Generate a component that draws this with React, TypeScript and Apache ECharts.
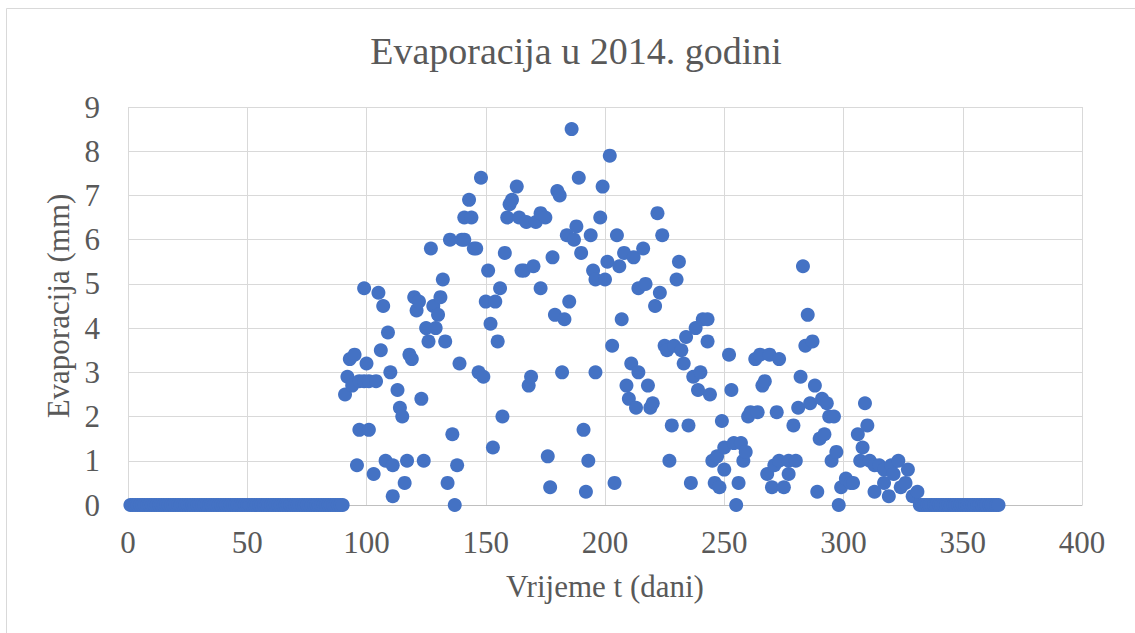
import React, { useEffect, useRef } from "react";
import * as echarts from "echarts";

const titleText = "Evaporacija u 2014. godini";
const xAxisName = "Vrijeme t (dani)";
const yAxisName = "Evaporacija (mm)";

// Days before the season (evaporation 0)
const winterDays = [
  1, 2, 3, 4, 5, 6, 7, 8, 9, 10, 11, 12, 13, 14, 15, 16, 17, 18, 19, 20,
  21, 22, 23, 24, 25, 26, 27, 28, 29, 30, 31, 32, 33, 34, 35, 36, 37, 38, 39, 40,
  41, 42, 43, 44, 45, 46, 47, 48, 49, 50, 51, 52, 53, 54, 55, 56, 57, 58, 59, 60,
  61, 62, 63, 64, 65, 66, 67, 68, 69, 70, 71, 72, 73, 74, 75, 76, 77, 78, 79, 80,
  81, 82, 83, 84, 85, 86, 87, 88, 89, 90,
];
// Days after the season (evaporation 0)
const lateDays = [
  332, 333, 334, 335, 336, 337, 338, 339, 340, 341, 342, 343, 344, 345, 346, 347,
  348, 349, 350, 351, 352, 353, 354, 355, 356, 357, 358, 359, 360, 361, 362, 363,
  364, 365,
];
const offSeasonValue = 0;

// Season days and measured evaporation (mm)
const seasonDays = [
  91, 92, 93, 94, 95, 96, 97, 97, 99, 99, 100, 101, 101, 103, 104, 105, 106, 107, 108, 109,
  110, 111, 111, 113, 114, 115, 116, 117, 118, 119, 120, 121, 122, 123, 124, 125, 126, 127, 128, 129,
  130, 131, 132, 133, 134, 135, 136, 137, 138, 139, 140, 141, 141, 143, 144, 145, 146, 147, 148, 149,
  150, 151, 152, 153, 154, 155, 156, 157, 158, 159, 160, 161, 163, 164, 165, 166, 167, 168, 169, 170,
  171, 173, 173, 175, 176, 177, 178, 179, 180, 181, 182, 183, 184, 185, 186, 187, 188, 189, 190, 191,
  192, 193, 194, 195, 196, 196, 198, 199, 200, 201, 202, 203, 204, 205, 206, 207, 208, 209, 210, 211,
  212, 213, 214, 214, 216, 217, 218, 219, 220, 221, 222, 223, 224, 225, 226, 227, 228, 229, 230, 231,
  232, 233, 234, 235, 236, 237, 238, 239, 240, 241, 243, 243, 244, 245, 246, 247, 248, 249, 250, 250,
  252, 253, 254, 255, 256, 257, 258, 259, 260, 261, 263, 264, 265, 266, 267, 268, 269, 270, 271, 272,
  273, 273, 275, 277, 277, 279, 280, 281, 282, 283, 284, 285, 286, 287, 288, 289, 290, 291, 292, 293,
  294, 295, 296, 297, 298, 299, 301, 303, 304, 306, 307, 308, 309, 310, 311, 313, 313, 315, 317, 317,
  319, 320, 321, 323, 324, 326, 327, 329, 331,
];
const seasonValues = [
  2.5, 2.9, 3.3, 2.7, 3.4, 0.9, 1.7, 2.8, 4.9, 2.8, 3.2, 1.7, 2.8, 0.7, 2.8, 4.8, 3.5, 4.5, 1.0, 3.9,
  3.0, 0.2, 0.9, 2.6, 2.2, 2.0, 0.5, 1.0, 3.4, 3.3, 4.7, 4.4, 4.6, 2.4, 1.0, 4.0, 3.7, 5.8, 4.5, 4.0,
  4.3, 4.7, 5.1, 3.7, 0.5, 6.0, 1.6, 0.0, 0.9, 3.2, 6.0, 6.0, 6.5, 6.9, 6.5, 5.8, 5.8, 3.0, 7.4, 2.9,
  4.6, 5.3, 4.1, 1.3, 4.6, 3.7, 4.9, 2.0, 5.7, 6.5, 6.8, 6.9, 7.2, 6.5, 5.3, 5.3, 6.4, 2.7, 2.9, 5.4,
  6.4, 4.9, 6.6, 6.5, 1.1, 0.4, 5.6, 4.3, 7.1, 7.0, 3.0, 4.2, 6.1, 4.6, 8.5, 6.0, 6.3, 7.4, 5.7, 1.7,
  0.3, 1.0, 6.1, 5.3, 3.0, 5.1, 6.5, 7.2, 5.1, 5.5, 7.9, 3.6, 0.5, 6.1, 5.4, 4.2, 5.7, 2.7, 2.4, 3.2,
  5.6, 2.2, 3.0, 4.9, 5.8, 5.0, 2.7, 2.2, 2.3, 4.5, 6.6, 4.8, 6.1, 3.6, 3.5, 1.0, 1.8, 3.6, 5.1, 5.5,
  3.5, 3.2, 3.8, 1.8, 0.5, 2.9, 4.0, 2.6, 3.0, 4.2, 4.2, 3.7, 2.5, 1.0, 0.5, 1.1, 0.4, 1.9, 0.8, 1.3,
  3.4, 2.6, 1.4, 0.0, 0.5, 1.4, 1.0, 1.2, 2.0, 2.1, 3.3, 2.1, 3.4, 2.7, 2.8, 0.7, 3.4, 0.4, 0.9, 2.1,
  3.3, 1.0, 0.4, 1.0, 0.7, 1.8, 1.0, 2.2, 2.9, 5.4, 3.6, 4.3, 2.3, 3.7, 2.7, 0.3, 1.5, 2.4, 1.6, 2.3,
  2.0, 1.0, 2.0, 1.2, 0.0, 0.4, 0.6, 0.5, 0.5, 1.6, 1.0, 1.3, 2.3, 1.8, 1.0, 0.9, 0.3, 0.9, 0.8, 0.5,
  0.2, 0.9, 0.7, 1.0, 0.4, 0.5, 0.8, 0.2, 0.3,
];

const xTicks = { min: 0, max: 400, interval: 50 };
const yTicks = { min: 0, max: 9, interval: 1 };

const FONT = "'Liberation Serif', 'Times New Roman', serif";
const TEXT_COLOR = "#595959";
const GRID_COLOR = "#d9d9d9";
const MARKER_COLOR = "#4472C4";

export default function App() {
  const ref = useRef<HTMLDivElement>(null);

  useEffect(() => {
    if (!ref.current) return;
    const chart = echarts.init(ref.current, undefined, { renderer: "svg" });

    const points: number[][] = [];
    winterDays.forEach((d) => points.push([d, offSeasonValue]));
    seasonDays.forEach((d, i) => points.push([d, seasonValues[i]]));
    lateDays.forEach((d) => points.push([d, offSeasonValue]));

    chart.setOption({
      animation: false,
      backgroundColor: "#ffffff",
      title: {
        text: titleText,
        left: 571,
        top: 27,
        textAlign: "center",
        textStyle: {
          fontFamily: FONT,
          fontSize: 38,
          fontWeight: "normal",
          color: TEXT_COLOR,
        },
      },
      grid: {
        left: 128,
        right: 53,
        top: 107,
        bottom: 128,
        containLabel: false,
      },
      xAxis: {
        type: "value",
        min: xTicks.min,
        max: xTicks.max,
        interval: xTicks.interval,
        name: xAxisName,
        nameLocation: "middle",
        nameGap: 66,
        nameTextStyle: { fontFamily: FONT, fontSize: 31, color: TEXT_COLOR },
        axisLine: { show: true, lineStyle: { color: "#bfbfbf", width: 1 } },
        axisTick: { show: false },
        axisLabel: { fontFamily: FONT, fontSize: 31, color: TEXT_COLOR, margin: 22 },
        splitLine: { show: true, lineStyle: { color: GRID_COLOR, width: 1 } },
      },
      yAxis: {
        type: "value",
        min: yTicks.min,
        max: yTicks.max,
        interval: yTicks.interval,
        name: yAxisName,
        nameLocation: "middle",
        nameGap: 54,
        nameRotate: 90,
        nameTextStyle: { fontFamily: FONT, fontSize: 31, color: TEXT_COLOR },
        axisLine: { show: false },
        axisTick: { show: false },
        axisLabel: { fontFamily: FONT, fontSize: 31, color: TEXT_COLOR, margin: 28 },
        splitLine: { show: true, lineStyle: { color: GRID_COLOR, width: 1 } },
      },
      graphic: [
        {
          type: "line",
          shape: { x1: 6.5, y1: 8.5, x2: 1135, y2: 8.5 },
          style: { stroke: GRID_COLOR, lineWidth: 1 },
        },
        {
          type: "line",
          shape: { x1: 6.5, y1: 8.5, x2: 6.5, y2: 633 },
          style: { stroke: GRID_COLOR, lineWidth: 1 },
        },
      ],
      series: [
        {
          type: "scatter",
          data: points,
          symbol: "circle",
          symbolSize: 14,
          itemStyle: { color: MARKER_COLOR, opacity: 1 },
        },
      ],
    });

    return () => chart.dispose();
  }, []);

  return (
    <div
      ref={ref}
      style={{ position: "fixed", left: 0, top: 0, width: 1135, height: 633, background: "#fff" }}
    />
  );
}
